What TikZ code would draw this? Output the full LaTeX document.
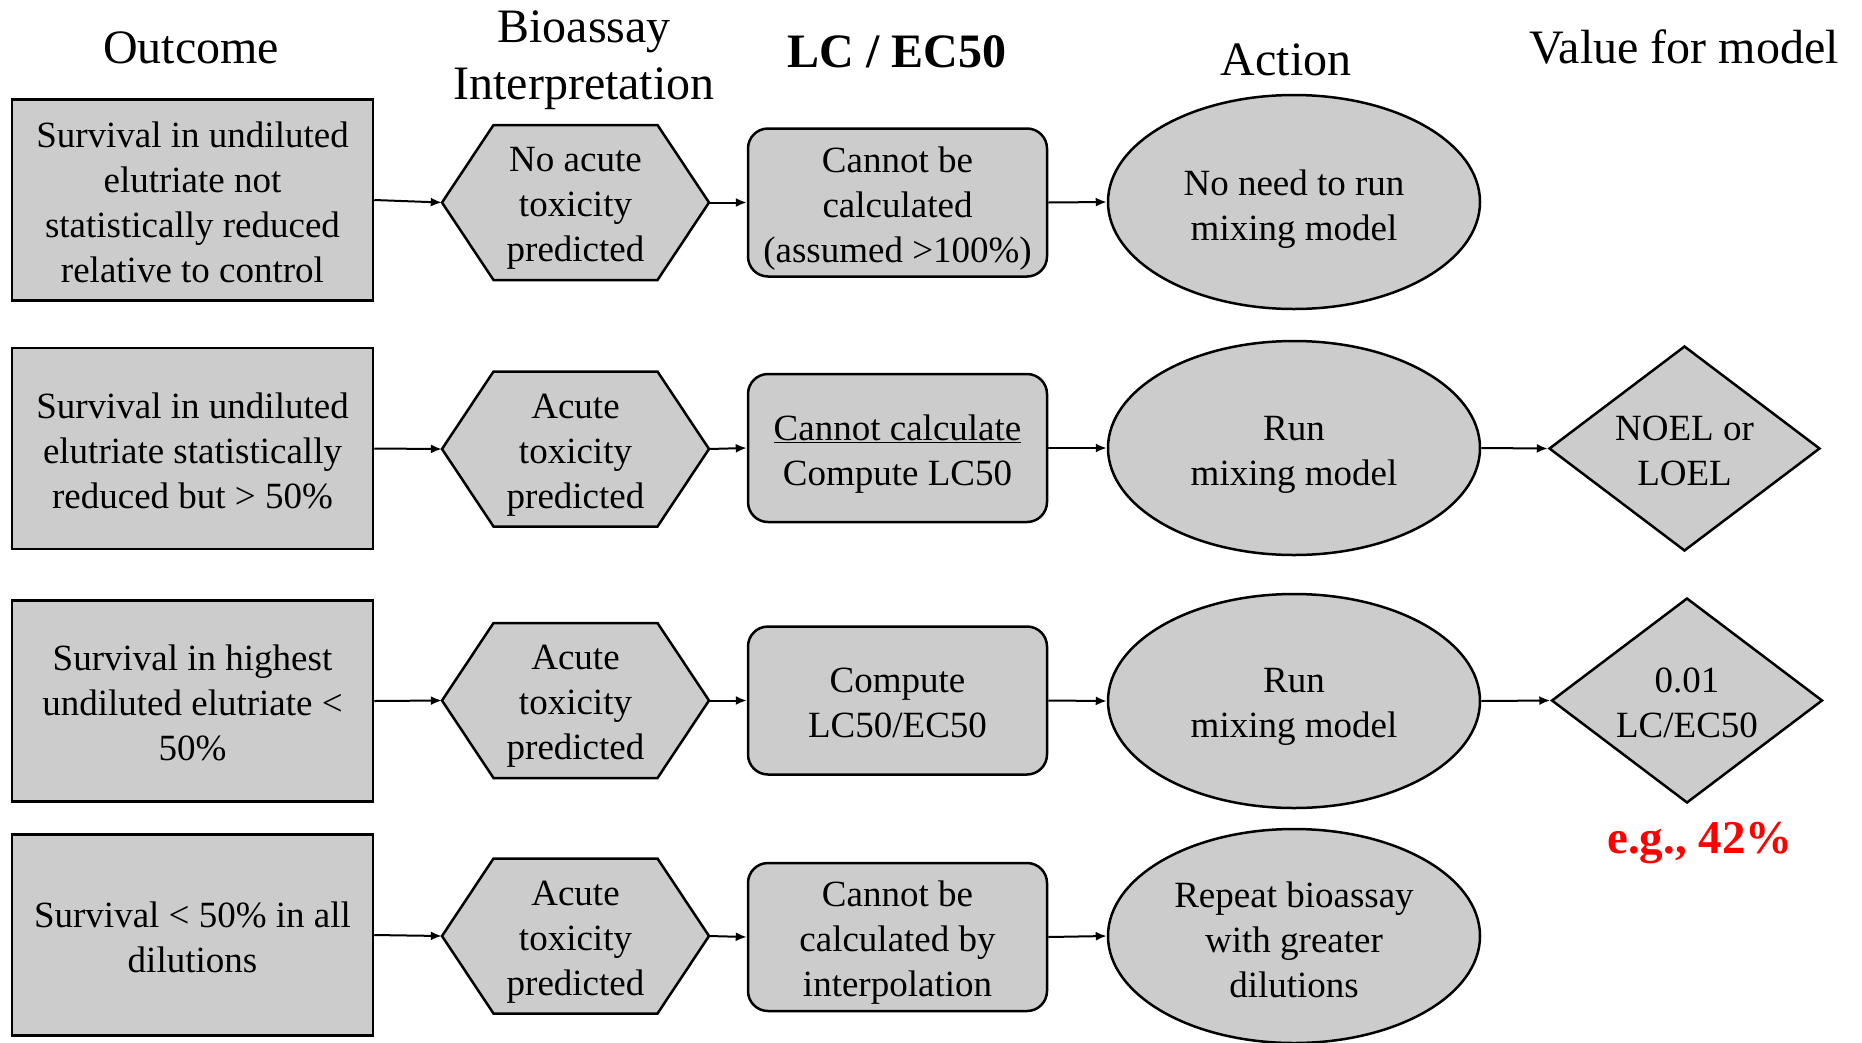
\documentclass[tikz,border=0pt]{standalone}
\usepackage{fontspec}
\setmainfont{Liberation Serif}
\usetikzlibrary{shapes.geometric,arrows.meta}
\definecolor{boxgray}{HTML}{CCCCCC}
\definecolor{egred}{HTML}{FF0000}
\tikzset{
  base/.style={fill=boxgray, draw=black, line width=2.5pt, inner sep=0pt},
  txt/.style={font=\fontsize{37}{45}\selectfont, align=center, inner sep=0pt},
  outbox/.style={base, rectangle, minimum width=361pt, minimum height=201pt},
  hexlabel/.style={minimum width=267pt, minimum height=155pt, inner sep=0pt},
  hexshape/.style={fill=boxgray, draw=black, line width=2.5pt, line join=miter},
  rbox/.style={base, rounded corners=20pt, minimum width=299pt, minimum height=148pt},
  act/.style={base, ellipse, minimum width=372pt, minimum height=214pt},
  val/.style={base, diamond, minimum width=271pt, minimum height=205pt},
  hdr/.style={font=\fontsize{48}{57}\selectfont, align=center, inner sep=0pt},
  conn/.style={line width=2pt, -{Latex[length=11pt,width=9pt]}}
}
\newcommand\hexnode[3]{%
  \path[hexshape] ({#1-133.5},{#2}) -- ({#1-82},{#2-77.5}) -- ({#1+82},{#2-77.5}) -- ({#1+133.5},{#2}) -- ({#1+82},{#2+77.5}) -- ({#1-82},{#2+77.5}) -- cycle;
  \node[hexlabel] (#3) at ({#1},{#2}) {};}
\begin{document}
\begin{tikzpicture}[x=1pt,y=-1pt]
\useasboundingbox (0,0) rectangle (1862,1042);
% headers
\node[hdr] (h-out) at (191,48) {Outcome};
\node[hdr] (h-bio) at (584,60) {Bioassay\\Interpretation};
\node[hdr,font=\fontsize{48}{57}\selectfont\bfseries] (h-lc) at (897,52) {LC / EC50};
\node[hdr] (h-act) at (1286,60) {Action};
\node[hdr] (h-val) at (1684,47) {Value for model};
% row 1
\node[outbox] (b1) at (192.5,200) {};
\hexnode{575.5}{202.5}{x1}
\node[rbox] (r1) at (897.5,202.5) {};
\node[act] (e1) at (1294,202) {};
% row 2
\node[outbox] (b2) at (192.5,448.5) {};
\hexnode{575.5}{449}{x2}
\node[rbox] (r2) at (897.5,448) {};
\node[act] (e2) at (1294,448) {};
\node[val] (d2) at (1684.5,448.5) {};
% row 3
\node[outbox] (b3) at (192.5,701) {};
\hexnode{575.5}{700.5}{x3}
\node[rbox] (r3) at (897.5,700.5) {};
\node[act] (e3) at (1294,701) {};
\node[val] (d3) at (1687,700.5) {};
\node[font=\fontsize{47}{56}\selectfont\bfseries, text=egred, inner sep=0pt] (eg) at (1700,843) {e.g., 42\%};
% row 4
\node[outbox] (b4) at (192.5,935) {};
\hexnode{575.5}{936}{x4}
\node[rbox] (r4) at (897.5,937) {};
\node[act] (e4) at (1294,936) {};
% texts
\node[txt] (tb1) at ([yshift=-2pt]b1.center) {Survival in undiluted\\elutriate not\\statistically reduced\\relative to control};
\node[txt] (tb2) at ([yshift=-2pt]b2.center) {Survival in undiluted\\elutriate statistically\\reduced but {>} 50\%};
\node[txt] (tb3) at ([yshift=-2pt]b3.center) {Survival in highest\\undiluted elutriate {<}\\50\%};
\node[txt] (tb4) at ([yshift=-2pt]b4.center) {Survival {<} 50\% in all\\dilutions};
\node[txt] (tx1) at ([yshift=-6pt]x1.center) {No acute\\toxicity\\predicted};
\node[txt] (tx2) at ([yshift=-6pt]x2.center) {Acute\\toxicity\\predicted};
\node[txt] (tx3) at ([yshift=-6pt]x3.center) {Acute\\toxicity\\predicted};
\node[txt] (tx4) at ([yshift=-6pt]x4.center) {Acute\\toxicity\\predicted};
\node[txt] (tr1) at ([yshift=-6pt]r1.center) {Cannot be\\calculated\\(assumed {>}100\%)};
\node[txt] (tr2) at ([yshift=-6pt]r2.center) {\underline{Cannot calculate}\\Compute LC50};
\node[txt] (tr3) at ([yshift=-2pt]r3.center) {Compute\\LC50/EC50};
\node[txt] (tr4) at ([yshift=-6pt]r4.center) {Cannot be\\calculated by\\interpolation};
\node[txt] (te1) at ([yshift=-7pt]e1.center) {No need to run\\mixing model};
\node[txt] (te2) at ([yshift=-7pt]e2.center) {Run\\mixing model};
\node[txt] (te3) at ([yshift=-6pt]e3.center) {Run\\mixing model};
\node[txt] (te4) at ([yshift=-4pt]e4.center) {Repeat bioassay\\with greater\\dilutions};
\node[txt] (td2) at ([yshift=-2pt]d2.center) {NOEL or\\LOEL};
\node[txt] (td3) at ([yshift=-2pt]d3.center) {0.01\\LC/EC50};
% connectors
\foreach \i in {1,2,3,4} {
  \draw[conn] (b\i.east) -- (x\i.west);
  \draw[conn] (x\i.east) -- (r\i.west);
  \draw[conn] (r\i.east) -- (e\i.west);
}
\draw[conn] (e2.east) -- (d2.west);
\draw[conn] (e3.east) -- (d3.west);
\end{tikzpicture}
\end{document}
